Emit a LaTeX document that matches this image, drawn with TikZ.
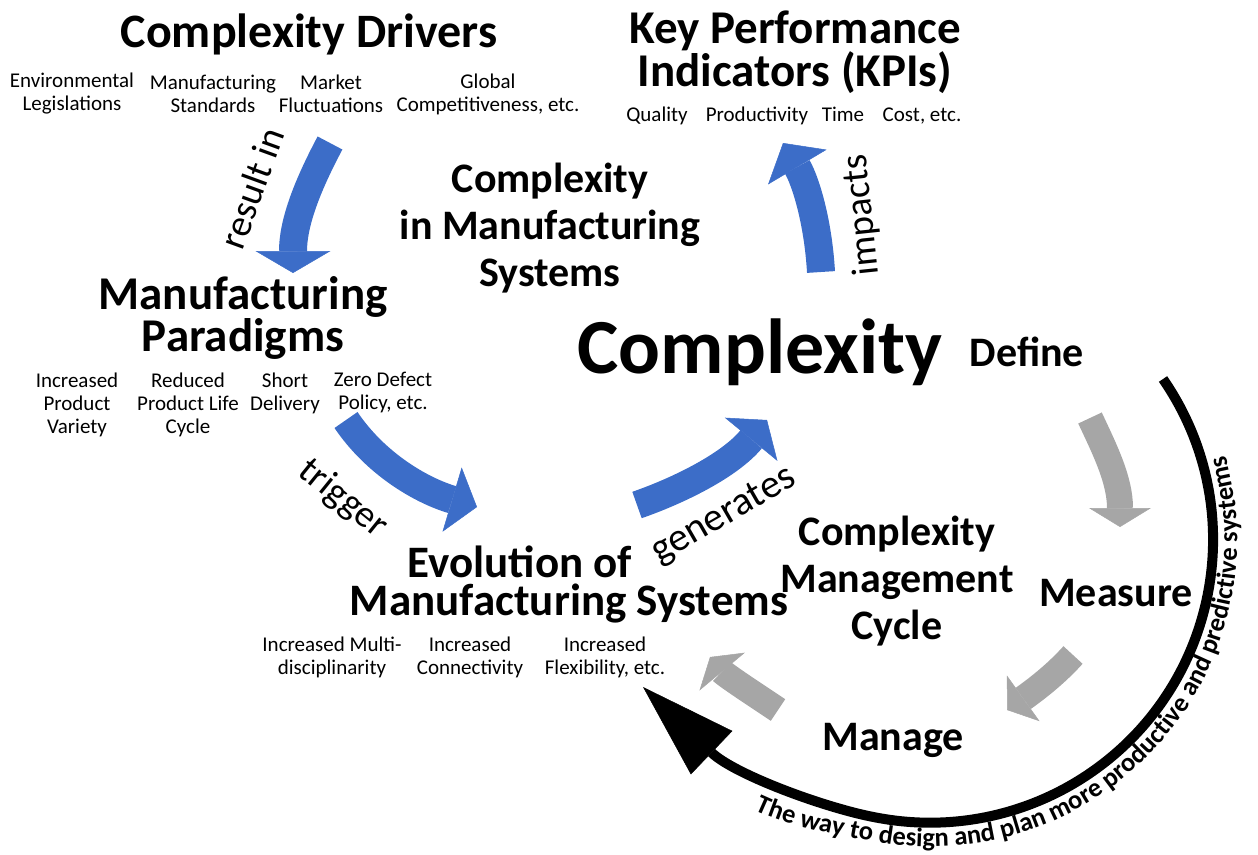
\documentclass[tikz,border=0pt]{standalone}
\usepackage{fontspec}
\setmainfont{Carlito}
\usetikzlibrary{arrows.meta, decorations.text}

\definecolor{flowblue}{HTML}{3C6DC8}
\definecolor{cyclegray}{HTML}{A6A6A6}

\begin{document}
\begin{tikzpicture}[
    x = 1pt, y = -1pt,
    heading/.style = { align = center, inner sep = 0pt, font = \bfseries\fontsize{47}{42}\selectfont },
    cyclestep/.style = { align = center, inner sep = 0pt, font = \bfseries\fontsize{42}{47}\selectfont },
    factor/.style = { align = center, inner sep = 0pt, font = \fontsize{21}{23}\selectfont }
]
    \tikzstyle{verb} = [inner sep = 0pt, font = \fontsize{38}{38}\selectfont];
    \tikzstyle{blueflow} = [line width = 28pt, flowblue];
    \tikzstyle{grayflow} = [line width = 26pt, cyclegray];

    \useasboundingbox (0, 0) rectangle (1258, 854);

    % headings
    \node[heading, font = \bfseries\fontsize{48}{42}\selectfont] (drivers) at (309, 34) {Complexity Drivers};
    \node[heading] (kpi) at (795, 52) {Key Performance\\Indicators (KPIs)};
    \node[cyclestep] (cims) at (550, 228) {Complexity\\in Manufacturing\\Systems};
    \node[heading] (paradigms) at (243, 318) {Manufacturing\\Paradigms};
    \node[heading, font = \bfseries\fontsize{45}{42}\selectfont] (evolution) at (520, 562) {Evolution of};
    \node[heading, font = \bfseries\fontsize{45}{42}\selectfont] (mansys) at (569, 604) {Manufacturing Systems};
    \node[inner sep = 0pt, font = \bfseries\fontsize{78}{78}\selectfont] (cplx) at (760, 352) {Complexity};
    \node[cyclestep] (cmc) at (897, 581) {Complexity\\Management\\Cycle};
    \node[cyclestep] (define) at (1027, 352) {Define};
    \node[cyclestep] (measure) at (1116, 593) {Measure};
    \node[cyclestep] (manage) at (893, 740) {Manage};

    % drivers
    \node[factor] (env) at (72, 94) {Environmental\\Legislations};
    \node[factor] (std) at (213, 94) {Manufacturing\\Standards};
    \node[factor] (mkt) at (331, 94) {Market\\Fluctuations};
    \node[factor] (glob) at (488, 94) {Global\\Competitiveness, etc.};

    % kpis
    \node[factor, anchor = base] (quality) at (657, 121) {Quality};
    \node[factor, anchor = base] (prod) at (757, 121) {Productivity};
    \node[factor, anchor = base] (time) at (843, 121) {Time};
    \node[factor, anchor = base] (cost) at (922, 121) {Cost, etc.};

    % paradigms
    \node[factor] (variety) at (77, 405) {Increased\\Product\\Variety};
    \node[factor] (life) at (188, 405) {Reduced\\Product Life\\Cycle};
    \node[factor] (delivery) at (285, 393) {Short\\Delivery};
    \node[factor] (zero) at (383, 392) {Zero Defect\\Policy, etc.};

    % evolution
    \node[factor] (multi) at (332, 657) {Increased Multi-\\disciplinarity};
    \node[factor] (conn) at (470, 657) {Increased\\Connectivity};
    \node[factor] (flex) at (605, 657) {Increased\\Flexibility, etc.};

    % blue flow
    \coordinate (resultS) at (330, 143);
    \coordinate (resultE) at (293, 273);
    \coordinate (impactS) at (821, 272);
    \coordinate (impactE) at (783, 143);
    \coordinate (triggerS) at (346, 420);
    \coordinate (triggerE) at (477, 507);
    \coordinate (genS) at (637, 505);
    \coordinate (genE) at (767, 420);

    \draw[blueflow, -{Triangle[length = 22pt, width = 75pt, line width = 0.5pt]}]
        (resultS) .. controls (305, 190) and (293, 225) .. (resultE);
    \draw[blueflow, -{Triangle[length = 28pt, width = 68pt, line width = 0.5pt]}]
        (impactS) .. controls (818, 220) and (805, 180) .. (impactE);
    \draw[blueflow, -{Triangle[length = 26pt, width = 67pt, line width = 0.5pt]}]
        (triggerS) .. controls (375, 463) and (420, 490) .. (triggerE);
    \draw[blueflow, -{Triangle[length = 25pt, width = 68pt, line width = 0.5pt]}]
        (genS) .. controls (680, 490) and (730, 465) .. (genE);

    \node[verb, rotate = 70] (resultin) at (252, 188) {result in};
    \node[verb, rotate = 96] (impacts) at (862, 215) {impacts};
    \node[verb, rotate = -39] (trigger) at (343, 499) {trigger};
    \node[verb, rotate = 30, font = \fontsize{40}{40}\selectfont] (generates) at (724, 516) {generates};

    % management cycle
    \coordinate (defS) at (1090, 418);
    \coordinate (defE) at (1120, 527);
    \coordinate (measS) at (1073, 655);
    \coordinate (measE) at (1007, 710);
    \coordinate (manS) at (778, 710);
    \coordinate (manE) at (710, 657);

    \draw[grayflow, -{Triangle[length = 19pt, width = 62pt, line width = 0.5pt]}]
        (defS) .. controls (1105, 450) and (1120, 480) .. (defE);
    \draw[grayflow, -{Triangle[length = 20pt, width = 56pt, line width = 0.5pt]}]
        (measS) .. controls (1055, 675) and (1035, 690) .. (measE);
    \draw[grayflow, -{Triangle[length = 19pt, width = 59pt, line width = 0.5pt]}]
        (manS) .. controls (760, 698) and (725, 675) .. (manE);

    % the way forward
    \coordinate (wayS) at (1163, 379);
    \coordinate (wayE) at (643, 687);
    \draw[line width = 10pt, -{Triangle[length = 95pt, width = 60pt, line width = 0.5pt]}]
        (wayS) arc[start angle = -34.6, end angle = 100, radius = 283]
        .. controls (830, 810) and (735, 775) .. (wayE);
    \path[decorate, decoration = {text along path, text align = {left indent = 0pt},
            text = {|\bfseries\fontsize{26.5}{26.5}\selectfont|The way to design and plan more productive and predictive systems}}]
        (755, 810) .. controls (790, 827) and (840, 836) .. (877, 842)
        arc[start angle = 100, end angle = -40, radius = 307];
\end{tikzpicture}
\end{document}
